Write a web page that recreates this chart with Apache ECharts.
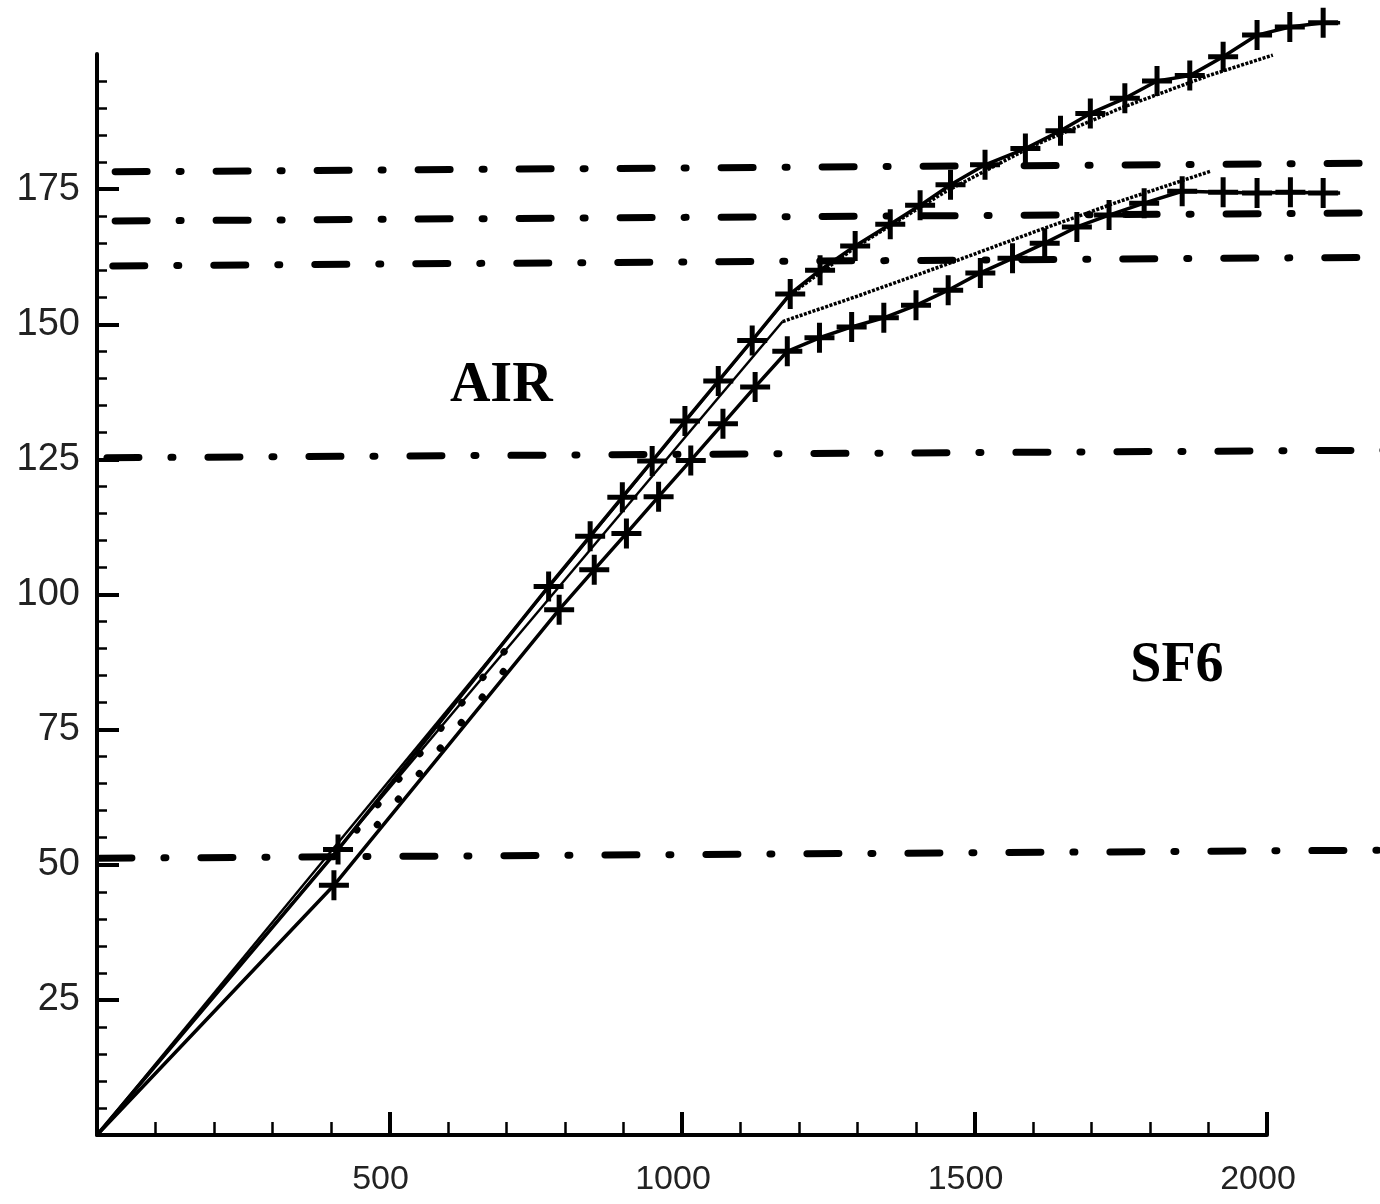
<!DOCTYPE html>
<html><head><meta charset="utf-8">
<script src="https://cdn.jsdelivr.net/npm/echarts@6/dist/echarts.min.js"></script>
<style>html,body{margin:0;padding:0;background:#fff}#c{width:1380px;height:1204px}</style>
</head><body><div id="c"></div>
<script>
// ---- tick labels ----
const xTickLabels = [500, 1000, 1500, 2000];
const yTickLabels = [25, 50, 75, 100, 125, 150, 175];

// ---- dash-dot reference levels (value at left end and right end) ----
const levelStartX = [31, 31, 27, 17, 5];
const levelEndX   = [2200, 2200, 2200, 2200, 2200];
const levelStartY = [178.2, 169.1, 160.8, 125.3, 51.2];
const levelEndY   = [179.8, 170.6, 162.4, 126.7, 52.7];

// ---- AIR ----
const airLineX = [0, 1185];
const airLineY = [0, 155.5];
const airSatX = [1185, 1300, 1450, 1600, 1750, 1900, 2010];
const airSatY = [155.5, 164.5, 174.5, 183, 190, 196, 199.8];
const airPlusX = [0, 412, 772, 843, 898, 949, 1005, 1062, 1120, 1185, 1236, 1296, 1356, 1407, 1459, 1518, 1587, 1647, 1698, 1757, 1812, 1868, 1925, 1983, 2039, 2096, 2125];
const airPlusY = [0, 52.8, 101.5, 110.8, 118, 124.7, 132.1, 139.5, 147, 155.6, 160, 164.5, 168.5, 172, 175.8, 179.5, 182.5, 185.8, 189, 191.8, 195, 196, 199.5, 203.5, 205, 205.8, 205.8];
const airDotsX = [444, 728];
const airDotsY = [56.4, 93.6];

// ---- SF6 ----
const sf6LineX = [0, 1172];
const sf6LineY = [0, 150.5];
const sf6SatX = [1172, 1300, 1450, 1600, 1750, 1903];
const sf6SatY = [150.5, 155.2, 161, 167, 172.8, 178.3];
const sf6PlusX = [0, 405, 790, 850, 905, 960, 1015, 1070, 1125, 1180, 1235, 1290, 1345, 1400, 1455, 1510, 1565, 1620, 1675, 1730, 1790, 1855, 1925, 1983, 2040, 2096, 2125];
const sf6PlusY = [0, 46.2, 97.2, 104.6, 111.3, 118.1, 124.8, 131.6, 138.4, 145, 147.5, 149.5, 151.2, 153.5, 156.3, 159.5, 162.2, 165, 168, 170.2, 172.4, 174.6, 174.4, 174.3, 174.4, 174.3, 174.3];
const sf6DotsX = [479, 711];
const sf6DotsY = [57.4, 87.9];

// ---- text labels ----
const gasNames = ['AIR', 'SF6'];
const gasLabelX = [691, 1846];
const gasLabelY = [138.5, 86.7];

const zip = (xs, ys) => xs.map((x, i) => [x, ys[i]]);
const PLUS = 'path://M12.5,0h5v12.5h12.5v5h-12.5v12.5h-5v-12.5h-12.5v-5h12.5z';

// plot area geometry: axis frame spans 0..2000 x 0..200; the data layer uses the same scale but reaches the page edges
const L = 97, AXR = 1267, BOT = 1135, AXT = 54, W = 1380;
const kx = (AXR - L) / 2000, ky = (BOT - AXT) / 200;
const dataXMax = (W - L) / kx, dataYMax = BOT / ky;

const series = [];
const onData = { xAxisIndex: 1, yAxisIndex: 1 };
levelStartX.forEach((sx, i) => {
  series.push(Object.assign({
    type: 'line', silent: true, z: 1, symbol: 'none',
    data: [[sx, levelStartY[i]], [levelEndX[i], levelEndY[i]]],
    lineStyle: { color: '#000', width: 7, type: [32, 32, 2, 35], cap: 'round' }
  }, onData));
});
function solid(xs, ys, w) {
  return Object.assign({ type: 'line', silent: true, z: 3, symbol: 'none',
    data: zip(xs, ys), lineStyle: { color: '#000', width: w } }, onData);
}
function hatched(xs, ys) {
  return Object.assign({ type: 'line', silent: true, z: 3, symbol: 'none',
    data: zip(xs, ys), lineStyle: { color: '#000', width: 3.5, type: [3, 1.5] } }, onData);
}
function dots(xs, ys) {
  return Object.assign({ type: 'line', silent: true, z: 3, symbol: 'none',
    data: zip(xs, ys), lineStyle: { color: '#000', width: 7, type: [0.5, 32.5], cap: 'round' } }, onData);
}
function plus(xs, ys) {
  const n = xs.length;
  return Object.assign({ type: 'line', silent: true, z: 4, showAllSymbol: true,
    symbol: PLUS, symbolSize: 30,
    itemStyle: { color: '#000', borderWidth: 0 },
    data: zip(xs, ys).map((p, i) => (i === 0 || i === n - 1) ? { value: p, symbol: 'none' } : { value: p }),
    lineStyle: { color: '#000', width: 3.5 } }, onData);
}
series.push(solid(airLineX, airLineY, 2.5));
series.push(hatched(airSatX, airSatY));
series.push(plus(airPlusX, airPlusY));
series.push(dots(airDotsX, airDotsY));
series.push(solid(sf6LineX, sf6LineY, 2.5));
series.push(hatched(sf6SatX, sf6SatY));
series.push(plus(sf6PlusX, sf6PlusY));
series.push(dots(sf6DotsX, sf6DotsY));
series.push(Object.assign({
  type: 'scatter', silent: true, z: 5, symbolSize: 1,
  itemStyle: { color: 'transparent' },
  data: gasNames.map((n, i) => ({ name: n, value: [gasLabelX[i], gasLabelY[i]] })),
  label: { show: true, position: 'inside', formatter: '{b}', opacity: 1,
    fontFamily: 'Liberation Serif, Times New Roman, serif', fontWeight: 'bold',
    fontSize: 56, color: '#000' }
}, onData));

const chart = echarts.init(document.getElementById('c'), null, { renderer: 'canvas' });
chart.setOption({
  animation: false,
  backgroundColor: '#fff',
  grid: [
    { left: L, right: W - AXR, top: AXT, bottom: 1204 - BOT, containLabel: false, outerBoundsMode: 'none' },
    { left: L, right: 0, top: 0, bottom: 1204 - BOT, containLabel: false, outerBoundsMode: 'none' }
  ],
  xAxis: [{
    gridIndex: 0, type: 'value', min: 0, max: 2000, interval: 500,
    axisLine: { show: true, onZero: false, lineStyle: { color: '#000', width: 4 } },
    axisTick: { show: true, inside: true, length: 23, lineStyle: { color: '#000', width: 4 } },
    minorTick: { show: true, splitNumber: 5, length: 13, lineStyle: { color: '#000', width: 2.5 } },
    splitLine: { show: false },
    axisLabel: { customValues: xTickLabels, formatter: v => String(v), margin: 28, fontSize: 34, color: '#222',
      fontFamily: 'Liberation Sans, Arial, sans-serif', padding: [0, 18, 0, 0] }
  }, {
    gridIndex: 1, type: 'value', min: 0, max: dataXMax, show: false,
    splitLine: { show: false }
  }],
  yAxis: [{
    gridIndex: 0, type: 'value', min: 0, max: 200, interval: 25,
    axisLine: { show: true, onZero: false, lineStyle: { color: '#000', width: 4 } },
    axisTick: { show: true, inside: true, length: 22, customValues: yTickLabels, lineStyle: { color: '#000', width: 4 } },
    minorTick: { show: true, splitNumber: 5, length: 10, lineStyle: { color: '#000', width: 2.5 } },
    splitLine: { show: false },
    axisLabel: { customValues: yTickLabels, formatter: v => String(v), margin: 17, fontSize: 38, color: '#222',
      fontFamily: 'Liberation Sans, Arial, sans-serif' }
  }, {
    gridIndex: 1, type: 'value', min: 0, max: dataYMax, show: false,
    splitLine: { show: false }
  }],
  series: series
});
</script>
</body></html>
